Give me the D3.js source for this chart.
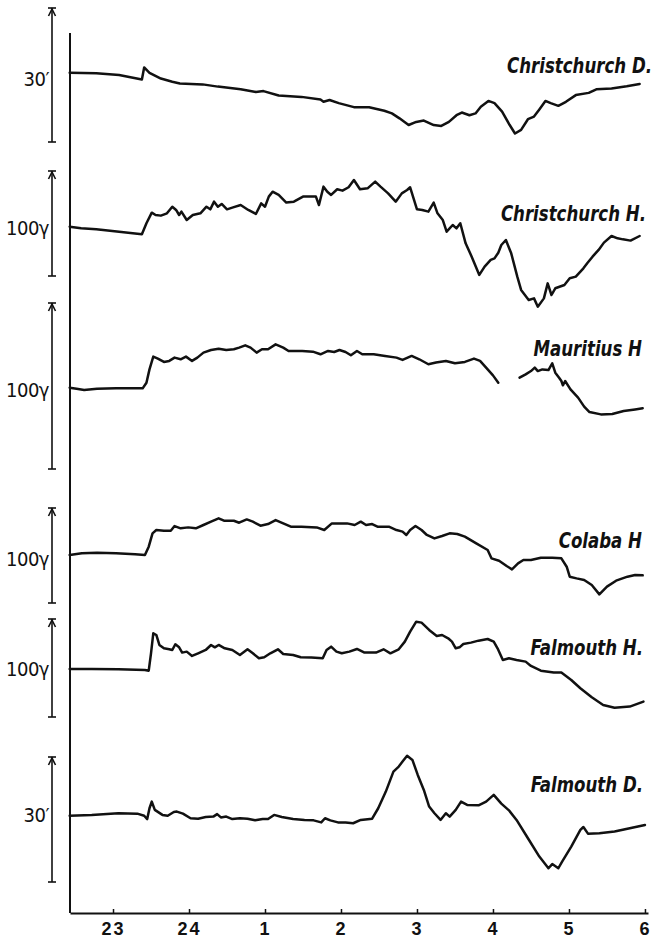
<!DOCTYPE html>
<html>
<head>
<meta charset="utf-8">
<script src="https://cdn.jsdelivr.net/npm/d3@7"></script>
<style>
  html, body { margin: 0; padding: 0; background: #fff; }
  svg { display: block; }
</style>
</head>
<body>
<svg id="chart" width="653" height="938"></svg>
<script>
// ---- Data (time in hours: 24 = midnight, 25 = 1h ... 30 = 6h) ----
const tickHours = [23, 24, 25, 26, 27, 28, 29, 30];
const tickLabels = ["23", "24", "1", "2", "3", "4", "5", "6"];

// Christchurch D (minutes of arc, relative to initial level)
const christchurchD = [[22.43,0],[22.78,-0.1],[23.08,-0.5],[23.38,-1.5],[23.41,1.2],[23.48,0],[23.63,-1.3],[23.78,-2.0],[23.88,-2.4],[24.18,-2.6],[24.38,-3.1],[24.68,-3.7],[24.88,-4.3],[24.98,-4.1],[25.18,-5.1],[25.48,-5.4],[25.73,-6.0],[25.77,-6.5],[25.85,-6.1],[25.97,-6.8],[26.17,-7.7],[26.37,-7.7],[26.57,-8.5],[26.67,-9.1],[26.77,-10.2],[26.89,-11.7],[26.99,-11.0],[27.09,-10.7],[27.22,-11.7],[27.32,-11.9],[27.42,-11.0],[27.52,-9.5],[27.59,-8.9],[27.69,-9.5],[27.77,-9.1],[27.84,-7.6],[27.94,-6.3],[28.02,-6.8],[28.12,-8.7],[28.22,-11.7],[28.29,-13.6],[28.37,-12.8],[28.46,-10.4],[28.54,-9.8],[28.61,-8.2],[28.69,-6.3],[28.76,-6.8],[28.86,-7.4],[28.96,-6.5],[29.09,-5.0],[29.26,-4.5],[29.36,-3.7],[29.56,-3.5],[29.76,-3.0],[29.93,-2.5]];

// Christchurch H (gamma)
const christchurchH = [[22.43,0],[22.58,-1.6],[22.78,-2.5],[23.08,-4.8],[23.38,-7.3],[23.44,3.2],[23.51,13.3],[23.56,11.1],[23.63,10.5],[23.71,12.7],[23.78,19.0],[23.83,15.9],[23.87,11.1],[23.90,14.3],[23.97,6.3],[24.05,11.1],[24.15,12.7],[24.23,19.0],[24.28,16.5],[24.33,23.8],[24.38,19.0],[24.43,21.6],[24.50,16.5],[24.58,18.4],[24.68,20.6],[24.78,15.9],[24.88,12.1],[24.95,22.2],[25.00,19.0],[25.05,28.6],[25.10,33.3],[25.18,30.2],[25.28,22.9],[25.38,23.8],[25.50,28.6],[25.67,28.6],[25.71,20.6],[25.77,38.1],[25.82,33.3],[25.87,30.2],[25.95,35.6],[26.02,34.3],[26.10,37.5],[26.17,44.4],[26.25,35.6],[26.35,36.5],[26.45,42.9],[26.52,38.1],[26.62,31.7],[26.72,23.8],[26.80,31.7],[26.87,34.9],[26.91,37.5],[27.00,16.5],[27.07,15.9],[27.15,14.3],[27.22,22.9],[27.27,12.7],[27.34,6.3],[27.39,-4.8],[27.47,1.6],[27.52,-1.6],[27.57,3.2],[27.64,-15.9],[27.72,-28.6],[27.82,-46.0],[27.89,-38.1],[27.97,-31.7],[28.02,-30.2],[28.07,-24.8],[28.11,-17.5],[28.17,-12.7],[28.24,-25.4],[28.32,-47.6],[28.37,-60.3],[28.47,-69.8],[28.54,-68.3],[28.59,-76.2],[28.67,-68.3],[28.72,-54.0],[28.77,-65.1],[28.82,-58.7],[28.94,-55.6],[29.01,-49.2],[29.09,-47.6],[29.19,-39.7],[29.24,-34.9],[29.31,-28.6],[29.39,-22.2],[29.46,-15.2],[29.56,-8.9],[29.64,-11.1],[29.71,-12.1],[29.81,-13.3],[29.93,-8.9]];

// Mauritius H (gamma) - null marks the gap in the record
const mauritiusH = [[22.43,0],[22.52,-0.6],[22.62,-1.4],[22.79,-0.6],[23.04,-0.4],[23.39,-0.4],[23.44,3.0],[23.48,11.0],[23.53,18.7],[23.59,17.5],[23.67,15.5],[23.74,16.1],[23.81,18.1],[23.89,17.1],[23.96,18.7],[24.04,16.1],[24.11,18.1],[24.19,21.1],[24.29,22.7],[24.39,23.5],[24.49,22.7],[24.59,23.1],[24.66,24.1],[24.74,25.5],[24.81,24.1],[24.89,21.1],[24.96,23.1],[25.04,23.1],[25.14,26.1],[25.24,24.1],[25.31,22.1],[25.39,22.1],[25.49,22.1],[25.63,21.7],[25.73,20.1],[25.83,22.1],[25.91,21.5],[25.98,22.7],[26.06,21.5],[26.13,19.5],[26.21,22.1],[26.28,20.1],[26.43,20.1],[26.58,19.1],[26.73,18.1],[26.81,16.7],[26.93,19.1],[27.03,17.1],[27.15,14.1],[27.25,15.1],[27.38,16.1],[27.50,14.7],[27.63,15.5],[27.75,17.5],[27.83,16.1],[27.93,11.0],[28.00,7.4],[28.07,3.0],[28.2,null],[28.35,6.0],[28.43,8.0],[28.50,10.0],[28.55,12.1],[28.59,10.0],[28.65,11.0],[28.73,10.6],[28.78,14.7],[28.82,9.0],[28.87,6.0],[28.90,4.0],[28.92,1.4],[28.95,4.0],[29.02,-1.0],[29.12,-6.0],[29.20,-11.4],[29.27,-14.7],[29.42,-16.1],[29.57,-15.9],[29.72,-14.1],[29.87,-13.1],[29.97,-12.4]];

// Colaba H (gamma)
const colabaH = [[22.43,0],[22.59,1.8],[22.79,2.5],[23.04,1.8],[23.29,0.7],[23.42,0],[23.47,8.8],[23.52,22.8],[23.57,26.3],[23.67,25.6],[23.76,25.6],[23.81,30.5],[23.89,28.1],[23.99,29.1],[24.09,28.1],[24.19,31.6],[24.29,35.1],[24.39,38.6],[24.46,36.1],[24.59,36.1],[24.66,34.0],[24.76,37.5],[24.84,35.1],[24.94,30.9],[25.04,32.6],[25.14,36.8],[25.24,33.3],[25.34,29.8],[25.48,29.8],[25.68,29.1],[25.78,26.3],[25.88,33.3],[26.08,33.3],[26.18,31.6],[26.26,35.1],[26.33,31.6],[26.41,32.6],[26.48,29.8],[26.63,29.8],[26.73,26.3],[26.81,24.6],[26.86,21.1],[26.91,26.3],[26.98,30.5],[27.06,26.3],[27.13,21.1],[27.23,17.5],[27.33,20.0],[27.43,22.8],[27.53,22.1],[27.63,19.3],[27.78,12.3],[27.93,5.3],[27.98,-3.5],[28.08,-6.0],[28.18,-11.6],[28.25,-15.1],[28.33,-8.8],[28.40,-5.3],[28.50,-5.3],[28.63,-2.8],[28.78,-2.8],[28.90,-3.5],[28.97,-12.3],[29.01,-22.8],[29.10,-24.6],[29.20,-26.3],[29.30,-31.6],[29.40,-41.4],[29.50,-33.3],[29.62,-27.0],[29.77,-22.8],[29.87,-21.1],[29.97,-21.4]];

// Falmouth H (gamma)
const falmouthH = [[22.43,0],[22.72,0],[23.07,-0.3],[23.42,-1.0],[23.47,-1.7],[23.50,16.0],[23.53,36.4],[23.57,34.7],[23.61,24.5],[23.67,21.1],[23.74,20.1],[23.78,19.4],[23.82,25.2],[23.87,22.1],[23.91,16.7],[23.97,17.7],[24.04,13.3],[24.12,16.0],[24.22,19.4],[24.29,24.5],[24.34,22.1],[24.39,24.5],[24.47,21.1],[24.57,19.4],[24.67,14.3],[24.77,20.1],[24.84,16.0],[24.92,10.9],[24.99,11.9],[25.07,16.0],[25.17,20.1],[25.24,15.3],[25.37,14.3],[25.47,11.9],[25.61,11.6],[25.76,10.9],[25.81,19.4],[25.87,22.8],[25.94,17.7],[26.01,16.0],[26.11,17.7],[26.21,20.4],[26.31,16.7],[26.46,16.7],[26.56,20.1],[26.65,16.0],[26.76,20.1],[26.84,27.9],[26.91,38.1],[26.99,48.3],[27.06,47.3],[27.16,39.8],[27.26,33.7],[27.33,34.7],[27.41,31.3],[27.46,27.9],[27.51,21.1],[27.56,22.1],[27.61,25.5],[27.71,26.9],[27.81,28.9],[27.93,30.6],[28.01,27.9],[28.06,21.1],[28.13,9.2],[28.21,10.9],[28.31,9.2],[28.43,7.5],[28.50,3.1],[28.63,-1.7],[28.80,-3.7],[28.90,-3.7],[29.03,-11.2],[29.15,-19.7],[29.30,-28.9],[29.45,-36.7],[29.60,-39.5],[29.80,-38.4],[29.98,-33.3]];

// Falmouth D (minutes of arc)
const falmouthD = [[22.43,0],[22.72,0.2],[23.07,0.6],[23.32,0.5],[23.41,0],[23.45,-0.8],[23.48,1.8],[23.51,3.4],[23.55,1.4],[23.60,0.8],[23.65,0.2],[23.72,0],[23.80,0.9],[23.84,1.0],[23.92,0.5],[24.02,-0.6],[24.12,-0.7],[24.22,-0.3],[24.32,-0.2],[24.37,0.4],[24.42,-0.4],[24.49,-0.2],[24.57,-0.8],[24.67,-0.6],[24.77,-0.7],[24.87,-1.1],[24.97,-0.8],[25.04,-0.8],[25.12,0.2],[25.22,-0.3],[25.37,-0.8],[25.52,-1.0],[25.64,-1.1],[25.74,-1.6],[25.79,-0.6],[25.86,-1.1],[25.96,-1.6],[26.06,-1.6],[26.16,-1.8],[26.26,-1.0],[26.41,-0.7],[26.49,1.8],[26.59,5.8],[26.69,10.6],[26.76,11.8],[26.81,13.0],[26.87,14.4],[26.94,13.4],[27.01,9.8],[27.09,6.2],[27.16,2.2],[27.23,0.6],[27.31,-1.0],[27.38,0.6],[27.43,-0.2],[27.51,1.4],[27.58,3.4],[27.66,2.6],[27.81,2.5],[27.91,3.4],[28.01,5.0],[28.11,2.9],[28.21,1.3],[28.31,-1.0],[28.46,-5.4],[28.61,-9.8],[28.73,-12.6],[28.78,-11.6],[28.86,-12.6],[28.91,-11.0],[29.03,-7.4],[29.15,-3.4],[29.19,-2.7],[29.25,-4.3],[29.40,-4.2],[29.60,-3.8],[29.80,-3.0],[30.00,-2.2]];

// ---- Layout ----
const svg = d3.select("#chart");
const x = d3.scaleLinear().domain([22.434, 30.04]).range([70, 648]);

const panels = [
  { data: christchurchD, name: "Christchurch D.", unit: "30′",  span: 30,  low: -15.5, barBottom: 142, barTop: 8,   labelY: 79,  nameX: 652, nameY: 73 },
  { data: christchurchH, name: "Christchurch H.", unit: "100γ", span: 100, low: -47,   barBottom: 276, barTop: 171, labelY: 228, nameX: 646, nameY: 221 },
  { data: mauritiusH,    name: "Mauritius H",     unit: "100γ", span: 100, low: -49,   barBottom: 469, barTop: 303, labelY: 390, nameX: 642, nameY: 356 },
  { data: colabaH,       name: "Colaba H",        unit: "100γ", span: 100, low: -50.5, barBottom: 603, barTop: 508, labelY: 559, nameX: 642, nameY: 548 },
  { data: falmouthH,     name: "Falmouth H.",     unit: "100γ", span: 100, low: -49,   barBottom: 717, barTop: 619, labelY: 669, nameX: 643, nameY: 655 },
  { data: falmouthD,     name: "Falmouth D.",     unit: "30′",  span: 30,  low: -15.9, barBottom: 882, barTop: 757, labelY: 815, nameX: 643, nameY: 792 }
];

const ink = "#111";
const barX = 52;

panels.forEach(p => {
  const y = d3.scaleLinear().domain([p.low, p.low + p.span]).range([p.barBottom, p.barTop]);
  const g = svg.append("g");

  // scale bar
  const yt = y(p.low + p.span), yb = y(p.low);
  g.append("line").attr("x1", barX).attr("x2", barX).attr("y1", yt).attr("y2", yb)
    .attr("stroke", ink).attr("stroke-width", 1.6);
  g.append("line").attr("x1", barX - 4).attr("x2", barX + 4).attr("y1", yt).attr("y2", yt)
    .attr("stroke", ink).attr("stroke-width", 1.6);
  g.append("path").attr("d", `M${barX - 3.5},${yt + 8}L${barX},${yt + 1}L${barX + 3.5},${yt + 8}`)
    .attr("fill", "none").attr("stroke", ink).attr("stroke-width", 1.6);
  g.append("line").attr("x1", barX - 4).attr("x2", barX + 4).attr("y1", yb).attr("y2", yb)
    .attr("stroke", ink).attr("stroke-width", 1.6);
  g.append("text").attr("x", 49).attr("y", p.labelY)
    .attr("text-anchor", "end").attr("dominant-baseline", "central")
    .attr("font-family", "'DejaVu Sans Condensed', 'Liberation Sans Narrow', sans-serif")
    .attr("font-size", 20).attr("fill", ink).attr("letter-spacing", -0.5)
    .text(p.unit);

  // trace
  const line = d3.line()
    .defined(d => d[1] !== null)
    .x(d => x(d[0]))
    .y(d => y(d[1]));
  g.append("path").datum(p.data).attr("d", line)
    .attr("fill", "none").attr("stroke", ink).attr("stroke-width", 2.5)
    .attr("stroke-linejoin", "round").attr("stroke-linecap", "round");

  // station name (condensed bold italic)
  g.append("text")
    .attr("transform", `translate(${p.nameX},${p.nameY}) scale(0.88,1)`)
    .attr("text-anchor", "end")
    .attr("font-family", "'Liberation Sans Narrow', 'DejaVu Sans Condensed', sans-serif")
    .attr("font-style", "italic").attr("font-weight", "bold")
    .attr("font-size", 21).attr("fill", ink)
    .text(p.name);
});

// vertical axis line
svg.append("line").attr("x1", 70).attr("x2", 70).attr("y1", 33).attr("y2", 913)
  .attr("stroke", ink).attr("stroke-width", 2);

// time axis
const axis = d3.axisBottom(x)
  .tickValues(tickHours)
  .tickFormat((d, i) => tickLabels[i])
  .tickSizeInner(-4)
  .tickSizeOuter(0)
  .tickPadding(9);
const ga = svg.append("g").attr("transform", "translate(0,913)").call(axis);
ga.select(".domain").attr("stroke", ink).attr("stroke-width", 2);
ga.selectAll(".tick line").attr("stroke", ink).attr("stroke-width", 1.5);
ga.selectAll(".tick text")
  .attr("font-family", "'Liberation Sans', Arial, sans-serif")
  .attr("font-weight", "bold").attr("font-size", 18)
  .attr("letter-spacing", 2).attr("fill", ink);
</script>
</body>
</html>
